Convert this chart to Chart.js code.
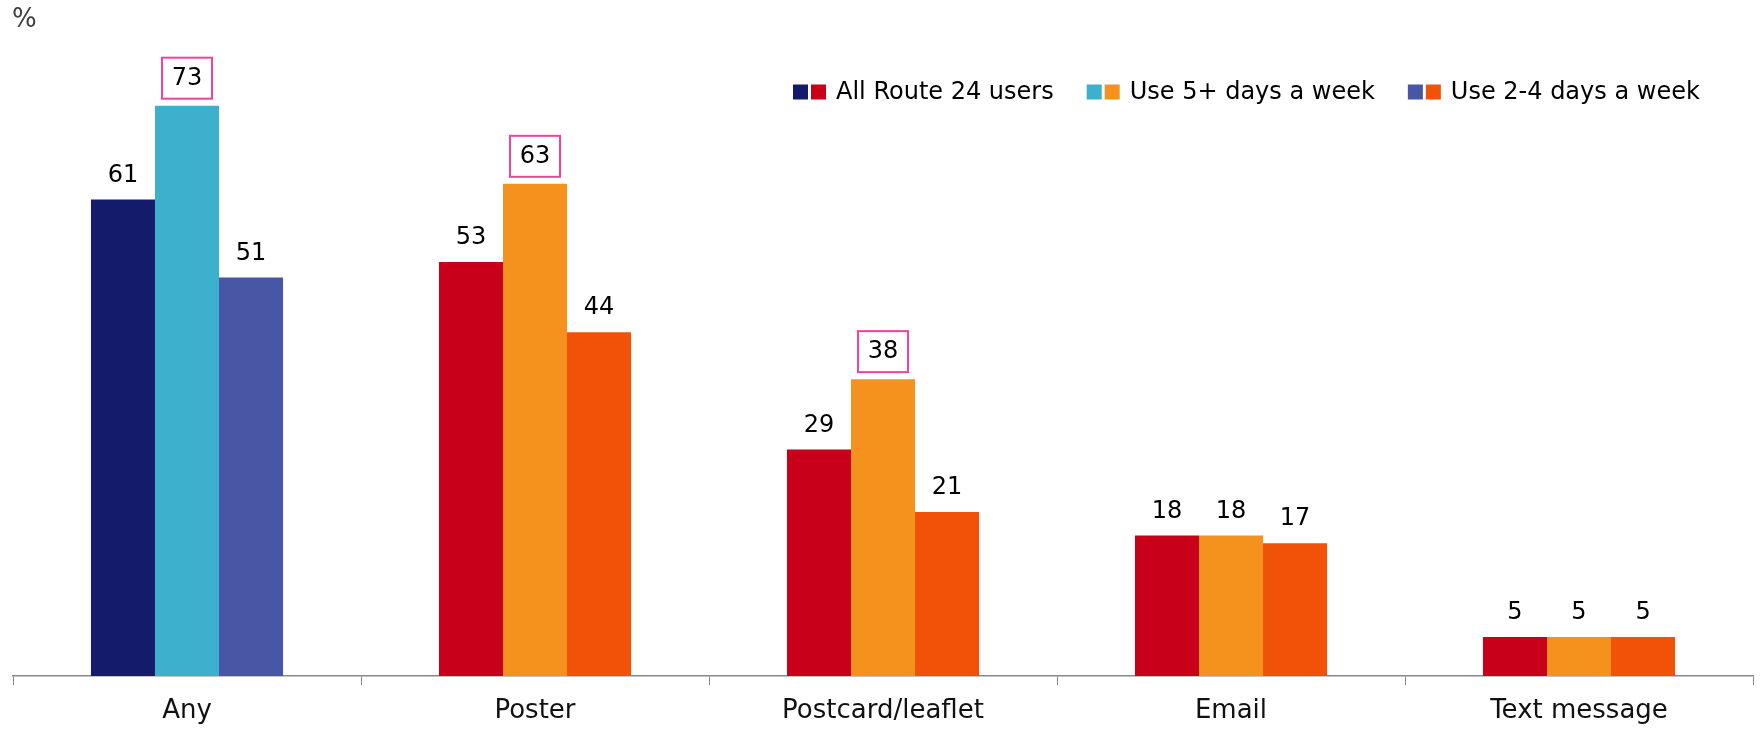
<!DOCTYPE html>
<html>
<head>
<meta charset="utf-8">
<script src="https://cdn.jsdelivr.net/npm/chart.js"></script>
<style>
  html, body { margin: 0; padding: 0; background: #fff; }
  #wrap { width: 1760px; height: 730px; position: relative; }
</style>
</head>
<body>
<div id="wrap"><canvas id="awarenessChart"></canvas></div>
<script>
var categories = ["Any", "Poster", "Postcard/leaflet", "Email", "Text message"];
var seriesNames = ["All Route 24 users", "Use 5+ days a week", "Use 2-4 days a week"];
var allUsers = [61, 53, 29, 18, 5];
var use5Plus = [73, 63, 38, 18, 5];
var use2to4 = [51, 44, 21, 17, 5];
// labels that get the pink box
var boxed5Plus = [true, true, true, false, false];

var anyColors = ["#141B6B", "#3DB0CD", "#4856A6"];
var otherColors = ["#C8001A", "#F5921E", "#F05308"];

var FONT = "'DejaVu Sans', Verdana, sans-serif";

function colorsFor(s) {
    var out = [];
    for (var i = 0; i < categories.length; i++)
        out.push(i == 0 ? anyColors[s] : otherColors[s]);
    return out;
}

var seriesData = [allUsers, use5Plus, use2to4];
var datasets = [];
for (var s = 0; s < seriesData.length; s++) {
    datasets.push({
        label: seriesNames[s],
        data: seriesData[s],
        backgroundColor: colorsFor(s),
        borderWidth: 0,
        categoryPercentage: 0.552,
        barPercentage: 1.0
    });
}

var valueLabels = {
    id: "valueLabels",
    afterDatasetsDraw: function (chart) {
        var ctx = chart.ctx;
        ctx.save();
        ctx.font = "24px " + FONT;
        ctx.textAlign = "center";
        ctx.textBaseline = "middle";
        chart.data.datasets.forEach(function (ds, di) {
            var meta = chart.getDatasetMeta(di);
            meta.data.forEach(function (bar, i) {
                var boxed = di == 1 && boxed5Plus[i];
                var y = bar.y - (boxed ? 28 : 25);
                if (boxed) {
                    ctx.fillStyle = "#fff";
                    ctx.fillRect(bar.x - 25, y - 20, 50, 41);
                    ctx.strokeStyle = "#F0449A";
                    ctx.lineWidth = 2;
                    ctx.strokeRect(bar.x - 25, y - 20, 50, 41);
                }
                ctx.fillStyle = "#000";
                ctx.fillText(ds.data[i], bar.x, y + 1);
            });
        });
        ctx.restore();
    }
};

var pairLegend = {
    id: "pairLegend",
    afterDraw: function (chart) {
        var ctx = chart.ctx;
        ctx.save();
        ctx.font = "24px " + FONT;
        ctx.textBaseline = "middle";
        var x = 793, y = 92, sq = 15;
        for (var s = 0; s < seriesNames.length; s++) {
            ctx.fillStyle = anyColors[s];
            ctx.fillRect(x, y - sq / 2, sq, sq);
            ctx.fillStyle = otherColors[s];
            ctx.fillRect(x + sq + 3, y - sq / 2, sq, sq);
            ctx.fillStyle = "#000";
            ctx.fillText(seriesNames[s], x + 2 * sq + 13, y + 1);
            x += 2 * sq + 13 + ctx.measureText(seriesNames[s]).width + 33;
        }
        // unit label
        ctx.font = "26px " + FONT;
        ctx.fillStyle = "#404040";
        ctx.fillText("%", 12, 20);
        ctx.restore();
    }
};

var chart = new Chart("awarenessChart", {
    type: "bar",
    data: {
        labels: categories,
        datasets: datasets
    },
    options: {
        responsive: true,
        maintainAspectRatio: false,
        animation: false,
        layout: { padding: { left: 13, right: 7, top: 51, bottom: 0 } },
        plugins: {
            legend: { display: false },
            tooltip: { enabled: false }
        },
        scales: {
            x: {
                grid: {
                    offset: true,
                    drawOnChartArea: false,
                    drawTicks: true,
                    tickLength: 9,
                    color: "#888"
                },
                border: { display: true, color: "#888", width: 1.5 },
                ticks: {
                    color: "#111",
                    padding: 11,
                    font: { family: FONT, size: 26 }
                },
                afterFit: function (scale) { scale.height = 54; }
            },
            y: {
                display: false,
                min: 0,
                max: 80
            }
        }
    },
    plugins: [valueLabels, pairLegend]
});
</script>
</body>
</html>
